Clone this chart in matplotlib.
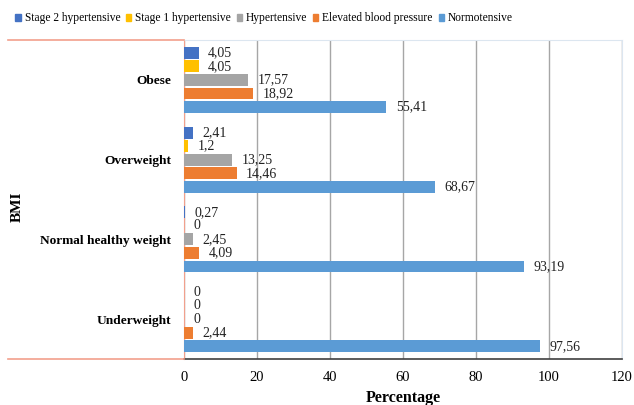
import matplotlib
matplotlib.use("Agg")
import matplotlib.pyplot as plt
from matplotlib.lines import Line2D
from matplotlib.patches import Patch

# ── Datos ─────────────────────────────────────────────────────────────────
categories = ["Underweight", "Normal healthy weight", "Overweight", "Obese"]
series = ["Normotensive", "Elevated blood pressure", "Hypertensive",
          "Stage 1 hypertensive", "Stage 2 hypertensive"]
normotensive = [97.56, 93.19, 68.67, 55.41]
elevated = [2.44, 4.09, 14.46, 18.92]
hypertensive = [0, 2.45, 13.25, 17.57]
stage1 = [0, 0, 1.2, 4.05]
stage2 = [0, 0.27, 2.41, 4.05]
values = [normotensive, elevated, hypertensive, stage1, stage2]
colors = ["#5B9BD5", "#ED7D31", "#A5A5A5", "#FFC000", "#4472C4"]
xticks = [0, 20, 40, 60, 80, 100, 120]

plt.rcParams["font.family"] = "Liberation Serif"
RED = "#F2A08C"
FRAME = "#DCE6F0"

fig = plt.figure(figsize=(6.34, 4.05), dpi=100)
ax = fig.add_axes([0.290, 0.1136, 0.691, 0.7874])

step, h = 0.17, 0.15
for i, (vals, col) in enumerate(zip(values, colors)):
    ys = [k + (i - 2) * step for k in range(len(categories))]
    ax.barh(ys, vals, height=h, color=col, zorder=3)
    for y, v in zip(ys, vals):
        ax.text(v + 2.6, y, f"{v:g}".replace(".", ","), va="center",
                ha="left", fontsize=10, color="#222222", zorder=4)

ax.set_xlim(0, 120)
ax.set_ylim(-0.5, 3.5)
ax.set_xticks(xticks)
ax.set_xticklabels([str(t) for t in xticks], fontsize=10.5)
ax.set_yticks(range(len(categories)))
ax.set_yticklabels(categories, fontsize=9.6, fontweight="bold")
ax.tick_params(axis="both", length=0)
ax.tick_params(axis="y", pad=9)
ax.tick_params(axis="x", pad=9)
ax.xaxis.grid(True, color="#A6A6A6", linewidth=1.0, zorder=0)
ax.set_axisbelow(True)

ax.spines["left"].set_color(RED)
ax.spines["top"].set_color(FRAME)
ax.spines["right"].set_color(FRAME)
ax.spines["bottom"].set_color("#404040")
ax.spines["bottom"].set_linewidth(1.2)
ax.spines["bottom"].set_zorder(5)

ax.set_xlabel("Percentage", fontsize=11.5, fontweight="bold", labelpad=4)
fig.text(0.027, 0.49, "BMI", rotation=90, fontsize=11, fontweight="bold",
         va="center", ha="center")

# líneas rojas del marco izquierdo
for yy in (0.901, 0.1136):
    fig.add_artist(Line2D([0.013, 0.290], [yy, yy], color=RED, linewidth=1.2,
                          transform=fig.transFigure))

handles = [Patch(color=c, label=s) for s, c in zip(series, colors)][::-1]
fig.legend(handles=handles, loc="upper left", bbox_to_anchor=(0.008, 0.995),
           ncol=5, frameon=False, fontsize=8.3, handlelength=0.45,
           handleheight=0.5, handletextpad=0.35, columnspacing=0.5)

fig.savefig("out.png", dpi=100)
